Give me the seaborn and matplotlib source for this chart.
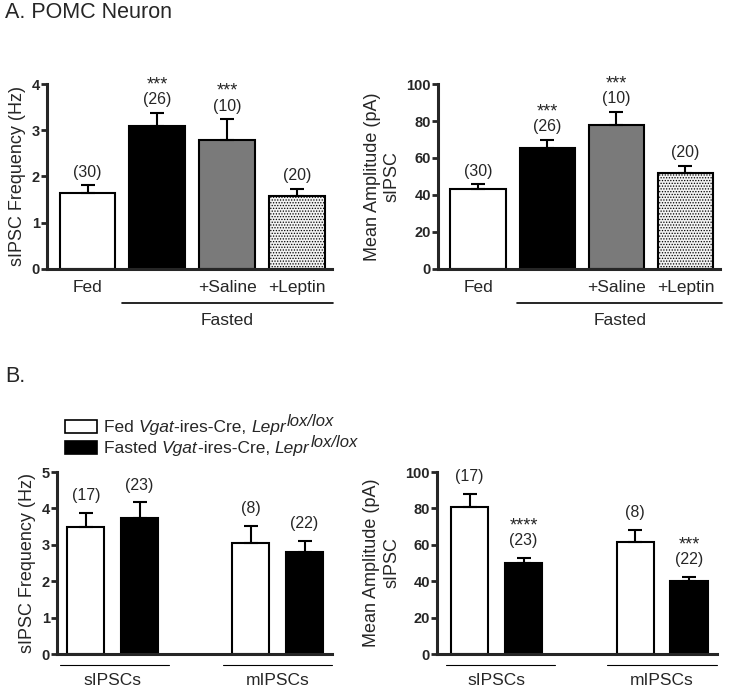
import numpy as np
import pandas as pd
import matplotlib.pyplot as plt
import seaborn as sns
from matplotlib.container import BarContainer

# Panel A: POMC neuron, fed vs fasted
a_groups = ["Fed", "Fasted", "Fasted+Saline", "Fasted+Leptin"]
a_ticklabels = ["Fed", "", "+Saline", "+Leptin"]
a_freq = [1.64, 3.10, 2.78, 1.57]
a_freq_top = [1.81, 3.38, 3.24, 1.74]
a_amp = [43.4, 65.4, 77.7, 51.7]
a_amp_top = [45.9, 69.7, 84.9, 55.9]
a_n = ["(30)", "(26)", "(10)", "(20)"]
a_freq_stars = ["", "***", "***", ""]
a_amp_stars = ["", "***", "***", ""]

# Panel B: Vgat-ires-Cre, Lepr lox/lox
b_stims = ["sIPSCs", "mIPSCs"]
b_conds = ["Fed", "Fasted"]
b_freq_fed = [3.50, 3.06]
b_freq_fasted = [3.75, 2.80]
b_freq_fed_top = [3.88, 3.52]
b_freq_fasted_top = [4.17, 3.11]
b_amp_fed = [80.8, 61.3]
b_amp_fasted = [49.8, 40.3]
b_amp_fed_top = [87.8, 68.1]
b_amp_fasted_top = [52.9, 42.3]
b_n_fed = ["(17)", "(8)"]
b_n_fasted = ["(23)", "(22)"]
b_amp_stars_fasted = ["****", "***"]

sns.set_style("ticks")
plt.rcParams['font.family'] = ['Liberation Sans', 'DejaVu Sans']
plt.rcParams['hatch.linewidth'] = 0.6

W, H = 729, 692
fig = plt.figure(figsize=(W / 100, H / 100), dpi=100)
ax1 = fig.add_axes([0.0645, 0.6113, 0.391, 0.2673])
ax2 = fig.add_axes([0.6008, 0.6113, 0.3868, 0.2673])
ax3 = fig.add_axes([0.0782, 0.0549, 0.3772, 0.263])
ax4 = fig.add_axes([0.5995, 0.0549, 0.3841, 0.263])

a_colors = {"Fed": "white", "Fasted": "black",
            "Fasted+Saline": "#7a7a7a", "Fasted+Leptin": "#f2f2f2"}


def style_axis(ax, ylim, step):
    ax.set_ylim(*ylim)
    ax.set_yticks(np.arange(ylim[0], ylim[1] + step / 2, step))
    sns.despine(ax=ax)
    for s in ["left", "bottom"]:
        ax.spines[s].set_linewidth(2.2)
    ax.tick_params(axis="y", length=4, width=2, labelsize=10.5, pad=1)
    for t in ax.get_yticklabels():
        t.set_fontweight("bold")
    ax.set_xlabel("")


def label_bars(ax, xs, tops, ns, stars, off):
    for x, t, n, s in zip(xs, tops, ns, stars):
        ax.annotate(n, (x, t), xytext=(0, off), textcoords="offset points",
                    ha="center", va="bottom", fontsize=11.5)
        if s:
            ax.annotate(s, (x, t), xytext=(0, off + 10), textcoords="offset points",
                        ha="center", va="bottom", fontsize=13)


def panel_a(ax, vals, tops, stars, ylim, step, ylabel, line_x):
    sns.barplot(x=a_groups, y=vals, hue=a_groups, palette=a_colors, legend=False,
                edgecolor="black", linewidth=1.5, width=0.8, errorbar=None, ax=ax)
    ax.patches[3].set_hatch("......")
    xs = np.arange(len(vals))
    err = np.array(tops) - np.array(vals)
    ax.errorbar(xs, vals, yerr=[np.zeros(len(vals)), err], fmt="none",
                ecolor="black", elinewidth=1.5, capsize=5, capthick=1.5)
    ax.set_xlim(-0.58, 3.5)
    style_axis(ax, ylim, step)
    ax.set_xticks(xs)
    ax.set_xticklabels(a_ticklabels, fontsize=12.5)
    ax.tick_params(axis="x", length=0, pad=8)
    ax.set_ylabel(ylabel, fontsize=13)
    label_bars(ax, xs, tops, a_n, stars, 4)
    tr = ax.get_xaxis_transform()
    ax.plot(line_x, [-0.184, -0.184], color="black", lw=1.2,
            transform=tr, clip_on=False)
    ax.text(np.mean(line_x), -0.276, "Fasted", transform=tr, ha="center",
            va="center", fontsize=12.5)


panel_a(ax1, a_freq, a_freq_top, a_freq_stars, (0, 4), 1,
        "sIPSC Frequency (Hz)", [0.5, 3.51])
panel_a(ax2, a_amp, a_amp_top, a_amp_stars, (0, 100), 20,
        "Mean Amplitude (pA)\nsIPSC", [0.57, 3.53])


def panel_b(ax, fed, fasted, fed_top, fasted_top, stars, ylim, step, ylabel,
            xlim, lines):
    df = pd.DataFrame({
        "stim": b_stims * 2,
        "cond": ["Fed"] * 2 + ["Fasted"] * 2,
        "value": fed + fasted,
    })
    sns.barplot(data=df, x="stim", y="value", hue="cond", order=b_stims,
                hue_order=b_conds, palette={"Fed": "white", "Fasted": "black"},
                edgecolor="black", linewidth=1.5, width=0.652, gap=0.31,
                errorbar=None, legend=False, ax=ax)
    tops = [fed_top, fasted_top]
    ns = [b_n_fed, b_n_fasted]
    st = [["", ""], stars]
    bar_conts = [c for c in ax.containers if isinstance(c, BarContainer)]
    for i, cont in enumerate(bar_conts):
        xs = [p.get_x() + p.get_width() / 2 for p in cont]
        vals = [p.get_height() for p in cont]
        err = np.array(tops[i]) - np.array(vals)
        ax.errorbar(xs, vals, yerr=[np.zeros(len(vals)), err], fmt="none",
                    ecolor="black", elinewidth=1.5, capsize=5, capthick=1.5)
        label_bars(ax, xs, tops[i], ns[i], st[i], 7)
    ax.set_xlim(*xlim)
    style_axis(ax, ylim, step)
    ax.tick_params(axis="x", length=0, pad=14, labelsize=12.5)
    ax.set_ylabel(ylabel, fontsize=13)
    tr = ax.get_xaxis_transform()
    for lx in lines:
        ax.plot(lx, [-0.062, -0.062], color="black", lw=0.8,
                transform=tr, clip_on=False)


panel_b(ax3, b_freq_fed, b_freq_fasted, b_freq_fed_top, b_freq_fasted_top,
        ["", ""], (0, 5), 1, "sIPSC Frequency (Hz)", (-0.338, 1.329),
        [[-0.32, 0.34], [0.67, 1.33]])
panel_b(ax4, b_amp_fed, b_amp_fasted, b_amp_fed_top, b_amp_fasted_top,
        b_amp_stars_fasted, (0, 100), 20, "Mean Amplitude (pA)\nsIPSC",
        (-0.36, 1.332), [[-0.305, 0.353], [0.668, 1.332]])

# legend drawn by hand so the big lox/lox superscript sits right
renderer = fig.canvas.get_renderer()
legend_rows = [("Fed", "white", 432), ("Fasted", "black", 453)]
for cond, color, base in legend_rows:
    fig.patches.append(plt.Rectangle((65 / W, 1 - (base + 0.5) / H), 32 / W, 12.5 / H,
                                     facecolor=color, edgecolor="black", lw=1.2,
                                     transform=fig.transFigure, figure=fig))
    pieces = [(cond + " ", "normal", 0, 12.5), ("Vgat", "italic", 0, 12.5),
              ("-ires-Cre, ", "normal", 0, 12.5), ("Lepr", "italic", 0, 12.5),
              ("lox/lox", "italic", 6, 12)]
    x = 104
    for txt, style, dy, fs in pieces:
        if txt.startswith("lox"):
            x += 1
        t = fig.text(x / W, 1 - (base - dy) / H, txt, fontsize=fs, style=style,
                     ha="left", va="baseline")
        x = t.get_window_extent(renderer).x1

fig.text(5 / W, 1 - 13 / H, "A. POMC Neuron", fontsize=15.5, ha="left", va="center")
fig.text(5 / W, 1 - 377 / H, "B.", fontsize=15.5, ha="left", va="center")

fig.savefig("out.png", dpi=100)
